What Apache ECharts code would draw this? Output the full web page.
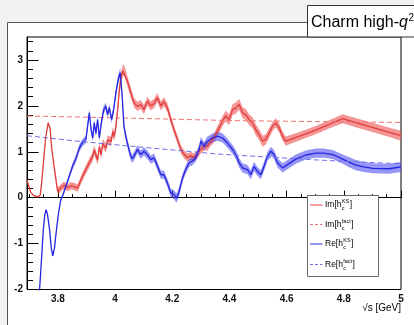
<!DOCTYPE html>
<html>
<head>
<meta charset="utf-8">
<script src="https://cdn.jsdelivr.net/npm/echarts@6/dist/echarts.min.js"></script>
<style>
  html, body { margin: 0; padding: 0; background: #f2f2f2; }
  #c { width: 414px; height: 325px; }
</style>
</head>
<body>
<div id="c"></div>
<script>
// sqrt(s) [GeV], value, half-width of the uncertainty band
const imKS = [
  [3.692, 0.38, 0.01], [3.705, 0.12, 0.01], [3.715, 0.05, 0.01], [3.729, 0.02, 0.01],
  [3.738, 0.05, 0.01], [3.743, 0.30, 0.01], [3.750, 0.80, 0.02], [3.757, 1.30, 0.02],
  [3.766, 1.63, 0.03], [3.773, 1.50, 0.03], [3.778, 1.10, 0.03], [3.785, 0.75, 0.04],
  [3.792, 0.45, 0.06], [3.799, 0.14, 0.08], [3.811, 0.22, 0.08], [3.822, 0.27, 0.08],
  [3.834, 0.22, 0.08], [3.846, 0.26, 0.08], [3.857, 0.24, 0.08], [3.869, 0.21, 0.08],
  [3.881, 0.39, 0.09], [3.892, 0.54, 0.09], [3.910, 0.76, 0.10], [3.922, 0.90, 0.10],
  [3.927, 1.04, 0.10], [3.939, 0.82, 0.10], [3.945, 1.11, 0.10], [3.951, 0.93, 0.10],
  [3.957, 1.18, 0.10], [3.968, 1.08, 0.10], [3.974, 1.26, 0.10], [3.986, 1.22, 0.10],
  [3.992, 1.44, 0.10], [3.997, 1.33, 0.10], [4.003, 1.55, 0.10], [4.009, 1.91, 0.11],
  [4.015, 2.35, 0.12], [4.021, 2.63, 0.12], [4.027, 2.76, 0.12], [4.031, 2.78, 0.12],
  [4.043, 2.54, 0.11], [4.055, 2.29, 0.11], [4.066, 2.07, 0.10], [4.078, 1.99, 0.10],
  [4.090, 2.03, 0.10], [4.101, 1.92, 0.10], [4.113, 2.10, 0.10], [4.125, 2.00, 0.10],
  [4.136, 2.05, 0.10], [4.148, 2.18, 0.10], [4.160, 2.00, 0.10], [4.171, 2.09, 0.10],
  [4.183, 1.96, 0.10], [4.195, 1.70, 0.09], [4.206, 1.48, 0.09], [4.218, 1.27, 0.09],
  [4.230, 1.05, 0.09], [4.241, 0.95, 0.09], [4.253, 0.87, 0.09], [4.265, 0.91, 0.09],
  [4.276, 0.87, 0.09], [4.288, 0.95, 0.09], [4.300, 1.05, 0.09], [4.311, 1.12, 0.09],
  [4.323, 1.12, 0.10], [4.335, 1.23, 0.10], [4.346, 1.30, 0.10], [4.358, 1.45, 0.11],
  [4.370, 1.59, 0.11], [4.376, 1.67, 0.11], [4.387, 1.78, 0.12], [4.399, 1.70, 0.12],
  [4.411, 1.92, 0.12], [4.422, 1.95, 0.12], [4.434, 2.03, 0.12], [4.446, 1.85, 0.12],
  [4.457, 1.81, 0.12], [4.469, 1.70, 0.12], [4.481, 1.63, 0.12], [4.492, 1.48, 0.12],
  [4.504, 1.37, 0.12], [4.516, 1.23, 0.12], [4.527, 1.27, 0.11], [4.539, 1.41, 0.11],
  [4.551, 1.56, 0.10], [4.562, 1.63, 0.10], [4.574, 1.52, 0.10], [4.586, 1.34, 0.10],
  [4.597, 1.23, 0.10], [4.650, 1.35, 0.09], [4.702, 1.47, 0.09], [4.750, 1.60, 0.09],
  [4.796, 1.72, 0.10], [4.850, 1.62, 0.10], [4.900, 1.53, 0.10], [4.950, 1.44, 0.10],
  [5.000, 1.35, 0.11]
];

const reKS = [
  [3.733, -2.20, 0.01], [3.736, -2.00, 0.01], [3.742, -1.42, 0.01], [3.749, -0.70, 0.01],
  [3.754, -0.38, 0.01], [3.759, -0.26, 0.01], [3.764, -0.38, 0.01], [3.771, -0.70, 0.01],
  [3.777, -1.10, 0.01], [3.782, -1.27, 0.01], [3.788, -1.10, 0.01], [3.795, -0.70, 0.02],
  [3.802, -0.35, 0.02], [3.810, -0.05, 0.03], [3.817, 0.05, 0.04], [3.828, 0.25, 0.05],
  [3.840, 0.47, 0.06], [3.851, 0.68, 0.07], [3.863, 0.85, 0.08], [3.875, 1.08, 0.08],
  [3.886, 1.20, 0.08], [3.898, 1.27, 0.08], [3.904, 1.56, 0.08], [3.910, 1.85, 0.08],
  [3.916, 1.49, 0.08], [3.922, 1.30, 0.08], [3.927, 1.63, 0.08], [3.933, 1.40, 0.08],
  [3.939, 1.70, 0.08], [3.945, 1.30, 0.08], [3.951, 1.59, 0.08], [3.960, 1.92, 0.08],
  [3.968, 1.99, 0.08], [3.974, 1.81, 0.08], [3.980, 1.96, 0.08], [3.988, 1.70, 0.08],
  [3.995, 1.92, 0.08], [4.003, 2.29, 0.09], [4.011, 2.58, 0.10], [4.018, 2.72, 0.10],
  [4.025, 2.20, 0.10], [4.031, 1.56, 0.09], [4.037, 1.35, 0.09], [4.043, 1.19, 0.09],
  [4.055, 0.90, 0.09], [4.060, 0.85, 0.09], [4.066, 0.90, 0.09], [4.078, 1.05, 0.09],
  [4.090, 0.94, 0.09], [4.101, 1.01, 0.09], [4.113, 0.94, 0.09], [4.125, 0.83, 0.09],
  [4.136, 0.87, 0.09], [4.148, 0.69, 0.09], [4.160, 0.50, 0.09], [4.171, 0.50, 0.09],
  [4.183, 0.32, 0.09], [4.195, 0.10, 0.09], [4.206, 0.07, 0.10], [4.215, -0.01, 0.10],
  [4.224, 0.13, 0.10], [4.236, 0.43, 0.09], [4.247, 0.61, 0.09], [4.259, 0.76, 0.09],
  [4.271, 0.80, 0.09], [4.282, 0.87, 0.09], [4.294, 1.05, 0.09], [4.300, 1.23, 0.09],
  [4.311, 1.12, 0.09], [4.323, 1.23, 0.10], [4.341, 1.30, 0.10], [4.358, 1.34, 0.10],
  [4.376, 1.30, 0.10], [4.393, 1.19, 0.10], [4.411, 1.05, 0.10], [4.422, 0.94, 0.10],
  [4.434, 0.76, 0.10], [4.446, 0.65, 0.10], [4.463, 0.61, 0.10], [4.475, 0.50, 0.10],
  [4.486, 0.68, 0.10], [4.498, 0.57, 0.10], [4.510, 0.50, 0.10], [4.521, 0.68, 0.10],
  [4.533, 0.90, 0.10], [4.545, 1.01, 0.10], [4.556, 0.94, 0.10], [4.568, 0.76, 0.10],
  [4.586, 0.65, 0.10], [4.603, 0.72, 0.10], [4.632, 0.84, 0.10], [4.667, 0.93, 0.10],
  [4.702, 0.97, 0.10], [4.730, 0.97, 0.10], [4.761, 0.94, 0.10], [4.796, 0.84, 0.10],
  [4.820, 0.77, 0.11], [4.842, 0.71, 0.11], [4.870, 0.67, 0.11], [4.901, 0.64, 0.11],
  [4.958, 0.63, 0.11], [5.000, 0.67, 0.11]
];

const imFact = [
  [3.692, 1.78], [3.850, 1.76], [4.000, 1.74], [4.200, 1.71], [4.400, 1.68],
  [4.600, 1.665], [4.800, 1.65], [5.000, 1.64]
];

const reFact = [
  [3.692, 1.35], [3.870, 1.23], [4.040, 1.13], [4.200, 1.04], [4.360, 0.95],
  [4.520, 0.89], [4.680, 0.83], [4.840, 0.78], [5.000, 0.74]
];

const xTicks = [3.8, 4.0, 4.2, 4.4, 4.6, 4.8, 5.0];
const yTicks = [-2, -1, 0, 1, 2, 3];
const xRange = [3.692, 5.0];
const yRange = [-2, 3.5];

const titleText = ['Charm high-', 'q', '2'];
const xTitle = '\u221As [GeV]';
const legendEntries = [
  { prefix: 'Im[h', sup: 'KS',   sub: 'c', color: '#e84545', dashed: false },
  { prefix: 'Im[h', sup: 'fact', sub: 'c', color: '#ef7272', dashed: true },
  { prefix: 'Re[h', sup: 'KS',   sub: 'c', color: '#2b2be6', dashed: false },
  { prefix: 'Re[h', sup: 'fact', sub: 'c', color: '#6f6fea', dashed: true }
];

// ---- styling ----
const FONT = '"Liberation Sans", Arial, Helvetica, sans-serif';
const RED = '#e23c3c', RED_BAND = 'rgba(236,80,80,0.6)', RED_DASH = '#ef7272';
const BLUE = '#2626e0', BLUE_BAND = 'rgba(80,80,240,0.6)', BLUE_DASH = '#6f6fea';

// minor tick positions (every 0.05 in x, every 0.2 in y)
const xMinor = [];
for (let k = 74; k <= 100; k++) if (k % 4 !== 0) xMinor.push(k / 20);
const yMinor = [];
for (let k = -9; k <= 17; k++) if (k % 5 !== 0) yMinor.push(k / 5);

const measureCtx = document.createElement('canvas').getContext('2d');
function textWidth(str, size, style) {
  measureCtx.font = (style ? style + ' ' : '') + size + 'px ' + FONT;
  return measureCtx.measureText(str).width;
}

// uncertainty band: one polygon through (x, value+err) and back along (x, value-err)
function band(id, rows, fill) {
  const data = rows.map(r => [r[0], r[1] - r[2], r[1] + r[2]]);
  return {
    name: id, type: 'custom', silent: true, z: 2, clip: true,
    data,
    encode: { x: 0, y: [1, 2] },
    renderItem(params, api) {
      if (params.dataIndex !== 0) return null;
      const upper = data.map(d => api.coord([d[0], d[2]]));
      const lower = data.map(d => api.coord([d[0], d[1]])).reverse();
      return {
        type: 'polygon',
        shape: { points: upper.concat(lower) },
        style: { fill: fill, stroke: null }
      };
    }
  };
}

function curve(name, rows, color, dashed, width) {
  return {
    name, type: 'line', data: rows.map(r => [r[0], r[1]]),
    symbol: 'none', silent: true, z: 3,
    lineStyle: { color, width, type: dashed ? [5, 3] : 'solid' }
  };
}

const axisLineStyle = { color: '#000', width: 1 };
const labelStyle = { fontFamily: FONT, fontSize: 10, fontWeight: 'bold', color: '#111' };

// ---- graphic: canvas frame, title box, legend, axis title ----
const graphics = [];
graphics.push({
  type: 'rect', z: -10, silent: true,
  shape: { x: 7.5, y: 22.5, width: 500, height: 400 },
  style: { fill: '#fff', stroke: '#555', lineWidth: 1 }
});

// title box
graphics.push({
  type: 'rect', z: 100, silent: true,
  shape: { x: 307.5, y: 5.5, width: 200, height: 31.5 },
  style: { fill: '#fff', stroke: '#333', lineWidth: 1 }
});
(function () {
  const fs = 16, x0 = 311, yc = 23;
  const w0 = textWidth(titleText[0], fs);
  const w1 = textWidth(titleText[1], fs, 'italic');
  graphics.push({ type: 'text', z: 101, silent: true, x: x0, y: yc,
    style: { text: titleText[0], font: fs + 'px ' + FONT, fill: '#000', verticalAlign: 'middle' } });
  graphics.push({ type: 'text', z: 101, silent: true, x: x0 + w0, y: yc,
    style: { text: titleText[1], font: 'italic ' + fs + 'px ' + FONT, fill: '#000', verticalAlign: 'middle' } });
  graphics.push({ type: 'text', z: 101, silent: true, x: x0 + w0 + w1 + 0.5, y: yc - 5,
    style: { text: titleText[2], font: '10px ' + FONT, fill: '#000', verticalAlign: 'middle' } });
})();

// legend
graphics.push({
  type: 'rect', z: 100, silent: true,
  shape: { x: 307.5, y: 195.5, width: 71, height: 81 },
  style: { fill: '#fff', stroke: '#666', lineWidth: 1 }
});
(function () {
  const rowsY = [205, 224.5, 244, 264.5];
  const fs = 8.5, fsSmall = 5.5;
  legendEntries.forEach((e, i) => {
    const y = rowsY[i];
    graphics.push({
      type: 'line', z: 101, silent: true,
      shape: { x1: 310, y1: y, x2: 322.5, y2: y },
      style: { stroke: e.color, lineWidth: 1, lineDash: e.dashed ? [3, 2] : null }
    });
    const x0 = 325;
    const wp = textWidth(e.prefix, fs);
    const ws = textWidth(e.sup, fsSmall);
    graphics.push({ type: 'text', z: 101, silent: true, x: x0, y: y,
      style: { text: e.prefix, font: fs + 'px ' + FONT, fill: '#000', verticalAlign: 'middle' } });
    graphics.push({ type: 'text', z: 101, silent: true, x: x0 + wp + 0.3, y: y - 3.2,
      style: { text: e.sup, font: fsSmall + 'px ' + FONT, fill: '#000', verticalAlign: 'middle' } });
    graphics.push({ type: 'text', z: 101, silent: true, x: x0 + wp + 0.3, y: y + 3.6,
      style: { text: e.sub, font: fsSmall + 'px ' + FONT, fill: '#000', verticalAlign: 'middle' } });
    graphics.push({ type: 'text', z: 101, silent: true, x: x0 + wp + ws + 0.8, y: y,
      style: { text: ']', font: fs + 'px ' + FONT, fill: '#000', verticalAlign: 'middle' } });
  });
})();

// x-axis title
graphics.push({
  type: 'text', z: 100, silent: true, x: 401, y: 308,
  style: { text: xTitle, font: '10px ' + FONT, fill: '#000', align: 'right', verticalAlign: 'middle' }
});

const option = {
  animation: false,
  backgroundColor: 'transparent',
  grid: {
    left: 27, right: 13, top: 37, bottom: 35.5,
    show: true, borderColor: '#000', borderWidth: 1, backgroundColor: 'transparent'
  },
  xAxis: [
    {
      type: 'value', min: xRange[0], max: xRange[1], position: 'bottom',
      axisLine: { show: true, lineStyle: axisLineStyle },
      axisTick: { show: true, inside: true, length: 7, customValues: xTicks, lineStyle: axisLineStyle },
      axisLabel: Object.assign({ show: true, customValues: xTicks, margin: 5 }, labelStyle),
      splitLine: { show: false }
    },
    {
      type: 'value', min: xRange[0], max: xRange[1], position: 'bottom',
      axisLine: { show: false },
      axisTick: { show: true, inside: true, length: 3.5, customValues: xMinor, lineStyle: axisLineStyle },
      axisLabel: { show: false },
      splitLine: { show: false }
    }
  ],
  yAxis: [
    {
      type: 'value', min: yRange[0], max: yRange[1], position: 'left',
      axisLine: { show: true, lineStyle: axisLineStyle },
      axisTick: { show: true, inside: true, length: 11.5, customValues: yTicks, lineStyle: axisLineStyle },
      axisLabel: Object.assign({ show: true, customValues: yTicks, margin: 4 }, labelStyle),
      splitLine: { show: false }
    },
    {
      type: 'value', min: yRange[0], max: yRange[1], position: 'left',
      axisLine: { show: false },
      axisTick: { show: true, inside: true, length: 6, customValues: yMinor, lineStyle: axisLineStyle },
      axisLabel: { show: false },
      splitLine: { show: false }
    }
  ],
  series: [
    band('imBand', imKS, RED_BAND),
    curve('Im[h_c^KS]', imKS, RED, false, 1.3),
    curve('Im[h_c^fact]', imFact, RED_DASH, true, 1),
    band('reBand', reKS, BLUE_BAND),
    curve('Re[h_c^KS]', reKS, BLUE, false, 1.3),
    curve('Re[h_c^fact]', reFact, BLUE_DASH, true, 1)
  ],
  graphic: graphics
};

const chart = echarts.init(document.getElementById('c'), null, { renderer: 'canvas' });
chart.setOption(option);
</script>
</body>
</html>
